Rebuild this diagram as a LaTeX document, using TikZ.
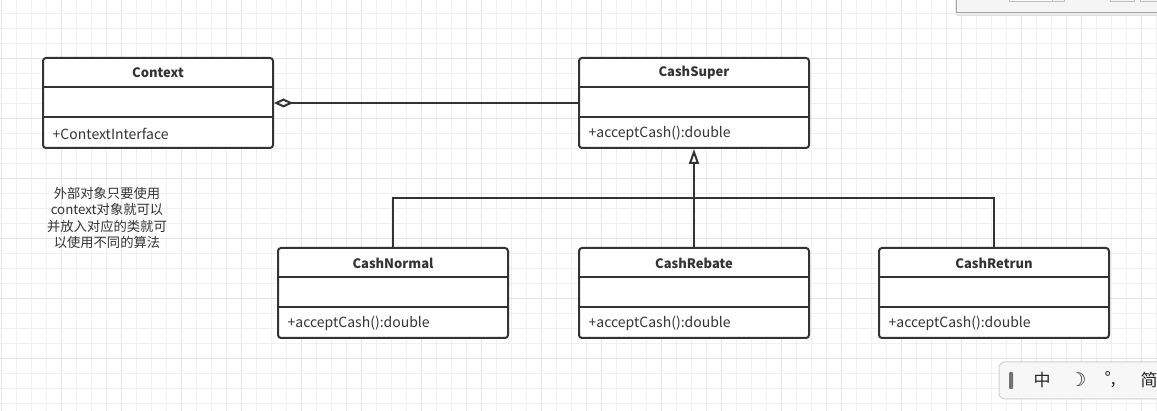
\documentclass[tikz,border=0pt]{standalone}
\usepackage{fontspec}
\setmainfont{Noto Sans CJK SC}
\newfontfamily\symfont{DejaVu Sans}
\usetikzlibrary{arrows.meta}
\definecolor{ink}{HTML}{333333}
\definecolor{gridminor}{HTML}{F0F0F0}
\definecolor{gridmajor}{HTML}{E4E4E4}
\tikzset{
  classbox/.style={draw=ink, line width=2pt, rounded corners=3pt, fill=white, minimum width=230pt, minimum height=90pt, inner sep=0pt},
  divider/.style={draw=ink, line width=2pt},
  titletext/.style={font=\fontsize{13}{15}\selectfont\bfseries, text=ink, inner sep=0pt},
  methodtext/.style={font=\fontsize{14}{15}\selectfont, text=ink, inner sep=0pt, anchor=west},
  link/.style={draw=ink, line width=2pt},
  notetext/.style={font=\fontsize{13.3}{16.3}\selectfont, text=ink, align=center, inner sep=0pt},
  imetext/.style={font=\fontsize{17}{18}\selectfont, text=black!85, inner sep=0pt},
}
\newcommand{\umlclass}[5]{%
  \node[classbox] (#1) at (#2,#3) {};
  \draw[divider] ([yshift=-30pt]#1.north west) -- ([yshift=-30pt]#1.north east);
  \draw[divider] ([yshift=-60pt]#1.north west) -- ([yshift=-60pt]#1.north east);
  \node[titletext] (#1-title) at ([yshift=-16pt]#1.north) {#4};
  \node[methodtext] (#1-method) at ([xshift=10.5pt,yshift=-76.5pt]#1.north west) {#5};
}
\begin{document}
\begin{tikzpicture}[x=1pt,y=-1pt]
\useasboundingbox (0,0) rectangle (1157,411);
\fill[white] (0,0) rectangle (1157,411);
% grid
\foreach \i in {0,...,77} {
  \pgfmathsetmacro{\gx}{1.7+15*\i}
  \pgfmathtruncatemacro{\m}{mod(\i,4)}
  \ifnum\m=0 \draw[gridmajor,line width=1pt] (\gx,0) -- (\gx,411);
  \else \draw[gridminor,line width=1pt] (\gx,0) -- (\gx,411); \fi
}
\foreach \i in {0,...,27} {
  \pgfmathsetmacro{\gy}{14+15*\i}
  \pgfmathtruncatemacro{\m}{mod(\i,4)}
  \ifnum\m=3 \draw[gridmajor,line width=1pt] (0,\gy) -- (1157,\gy);
  \else \draw[gridminor,line width=1pt] (0,\gy) -- (1157,\gy); \fi
}
% classes
\umlclass{Context}{158}{103}{Context}{+ContextInterface}
\umlclass{CashSuper}{694}{103}{CashSuper}{+acceptCash():double}
\umlclass{CashNormal}{393}{293}{CashNormal}{+acceptCash():double}
\umlclass{CashRebate}{694}{293}{CashRebate}{+acceptCash():double}
\umlclass{CashRetrun}{994}{293}{CashRetrun}{+acceptCash():double}
% aggregation
\draw[link, -{Diamond[open, length=19pt, width=9pt, line width=2pt]}] (CashSuper.west) -- (Context.east);
% inheritance
\coordinate (bar) at (694,198);
\draw[link] (CashNormal.north) |- (bar) -| (CashRetrun.north);
\draw[link, -{Triangle[open, length=15pt, width=10pt, line width=2pt]}] (CashRebate.north) -- (CashSuper.south);
% note
\node[notetext] (note) at (107,218) {外部对象只要使用\\context对象就可以\\并放入对应的类就可\\以使用不同的算法};
% screenshot artefacts
\fill[black!12] (957,0) rectangle (1157,16);
\fill[black!8] (955,0) rectangle (1157,15);
\filldraw[fill=black!4, draw=black!35, line width=1pt] (956,-2) rectangle (1160,13);
\filldraw[fill=white, draw=black!25] (1009,-2) rectangle (1052,1);
\filldraw[fill=black!4, draw=black!25] (1052,-2) rectangle (1064,1);
\filldraw[fill=black!4, draw=black!25] (1110,-2) rectangle (1134,1);
\filldraw[fill=black!4, draw=black!25] (1140,-2) rectangle (1160,1);
\begin{scope}
\clip (0,0) rectangle (1157,411);
\filldraw[fill=black!3, draw=black!18, line width=1pt, rounded corners=6pt] (999,362) rectangle (1175,399);
\fill[black!55, rounded corners=1pt] (1009,372) rectangle (1013,389);
\node[imetext] (ime1) at (1042,380) {中};
\node[imetext, font=\symfont\fontsize{19}{20}\selectfont] (ime2) at (1078,380) {☽};
\node[imetext] (ime3) at (1110,380) {°,};
\node[imetext] (ime4) at (1149,380) {简};
\end{scope}
\end{tikzpicture}
\end{document}
